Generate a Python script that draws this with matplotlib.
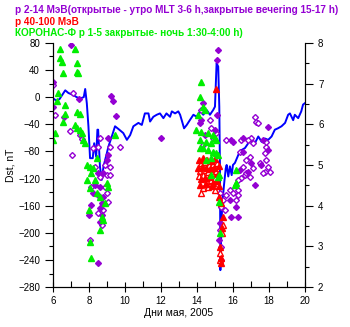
import numpy as np
from matplotlib import pyplot as plt
from matplotlib.ticker import MultipleLocator

plt.rcParams['font.family'] = ['Liberation Sans', 'DejaVu Sans']

# Dst index, nT
dstDay = [6.0, 6.17, 6.35, 6.67, 6.85, 7.13, 7.3, 7.5, 7.7, 7.78, 7.87, 7.96, 8.05, 8.2, 8.28, 8.39, 8.46, 8.5,
          8.6, 8.7, 8.8, 8.98, 9.07, 9.26, 9.44, 9.63, 9.9, 10.1, 10.28, 10.46, 10.74, 10.93, 11.1, 11.3, 11.39,
          11.57, 11.76, 11.94, 12.13, 12.3, 12.5, 12.6, 12.78, 12.96, 13.06, 13.15, 13.28, 13.43, 13.6, 13.8,
          13.98, 14.17, 14.35, 14.54, 14.72, 14.9, 15.0, 15.09, 15.18, 15.24, 15.28, 15.3, 15.35, 15.4, 15.5,
          15.6, 15.65, 15.74, 15.83, 15.93, 16.0, 16.11, 16.3, 16.48, 16.67, 16.85, 17.04, 17.22, 17.41, 17.6,
          17.78, 17.96, 18.15, 18.33, 18.5, 18.7, 18.9, 19.07, 19.17, 19.35, 19.44, 19.63, 19.8, 19.9, 20.0]
dstValue = [-2, -5, -3, 10, 6, 3, 0, -2, 0, 12, -9, -43, -90, -90, -68, -88, -48, -48,
            -102, -122, -102, -83, -73, -58, -43, -47, -53, -63, -56, -43, -38, -41, -24, -24, -36,
            -29, -26, -24, -31, -24, -29, -21, -24, -21, -26, -34, -46, -41, -34, -26,
            -29, -21, -26, -19, -26, -19, -14, 50, 45, -14, -112, -255, -200, -160, -130,
            -105, -100, -117, -102, -115, -100, -97, -85, -78, -75, -68, -63, -68, -58, -66,
            -61, -63, -58, -48, -46, -43, -38, -26, -24, -34, -26, -31, -21, -11, -9]

# p 2-14 MeV, evening (filled)
purpleFilledDay = [6.97, 6.0, 7.44, 6.59, 9.24, 9.30, 9.48, 9.06, 9.06, 8.97, 8.0, 8.13, 8.59, 8.59, 8.5, 12.02,
                   15.17, 15.09, 14.33, 14.24, 15.11, 15.91, 16.0, 17.94, 17.21, 8.5, 8.78, 8.32, 8.59, 8.22,
                   8.78, 8.69, 8.69, 6.0, 14.15, 14.98, 16.56, 17.67, 17.02, 16.37, 16.83, 17.94, 17.58, 16.56,
                   15.82, 16.19, 15.91, 16.28, 15.26, 15.22, 15.35, 14.43]
purpleFilledL = [7.95, 6.43, 6.62, 6.17, 6.70, 6.58, 6.20, 5.66, 5.25, 5.12, 3.77, 4.02, 3.94, 3.61, 2.58, 5.66,
                 7.83, 7.58, 6.52, 6.11, 6.23, 5.61, 5.57, 5.94, 4.51, 4.80, 4.80, 4.51, 4.47, 4.30,
                 4.22, 4.06, 3.77, 7.05, 6.03, 5.86, 5.66, 5.61, 5.04, 4.88, 4.83, 5.37, 5.0, 5.33,
                 4.14, 3.97, 3.73, 3.73, 3.57, 3.16, 2.66, 5.74]

# p 2-14 MeV, morning (open)
purpleOpenDay = [8.32, 8.59, 8.97, 9.15, 8.13, 8.87, 8.5, 8.97, 9.06, 8.78, 8.5, 8.69, 8.04, 8.87, 9.15, 8.59,
                 8.5, 8.22, 9.7, 9.15, 6.0, 6.09, 7.11, 6.93, 7.48, 7.58, 7.02, 14.71, 14.80, 14.89, 15.63,
                 15.08, 16.47, 17.02, 17.11, 17.21, 17.3, 17.39, 16.74, 16.93, 17.11, 16.56, 16.65, 16.47,
                 16.93, 16.28, 17.86, 17.76, 17.86, 17.48, 17.94, 18.04, 17.76, 16.83, 17.86, 16.37, 16.74,
                 16.28, 16.28, 16.19, 17.67, 15.82, 16.0, 15.63, 15.44, 15.54, 15.26, 15.35, 15.3, 15.35,
                 14.24, 14.32]
purpleOpenL = [4.96, 4.71, 4.75, 4.75, 4.47, 4.47, 4.26, 4.30, 4.10, 3.89, 3.81, 3.52, 3.16, 5.0, 4.96, 5.66,
               5.45, 5.41, 5.43, 5.45, 6.97, 6.23, 6.76, 5.84, 5.74, 5.64, 5.25, 6.11, 5.90, 5.66, 5.61,
               5.78, 5.61, 5.66, 5.53, 6.19, 6.06, 6.02, 5.12, 5.20, 4.92, 4.96, 4.75, 4.67,
               4.71, 4.63, 5.45, 5.29, 5.12, 5.04, 4.96, 4.83, 4.83, 5.61, 5.57, 5.33, 4.80,
               4.39, 4.26, 4.14, 4.80, 4.39, 4.30, 4.26, 4.14, 3.89, 4.31, 3.97, 3.40, 2.99,
               6.35, 5.49]

# p 40-100 MeV
redFilledDay = [14.09, 14.32, 14.54, 14.76, 14.98, 15.21, 14.04, 14.26, 14.48, 14.71, 14.93, 15.15, 14.21, 14.43,
                14.65, 14.87, 15.09, 14.15, 14.48, 14.82, 15.21, 15.22, 15.35, 15.44, 15.41, 15.26, 15.35,
                15.35, 15.08]
redFilledL = [5.12, 5.17, 5.12, 5.10, 5.15, 4.98, 4.93, 4.95, 4.93, 4.90, 4.93, 4.78, 4.66, 4.68,
              4.70, 4.56, 4.61, 4.51, 4.53, 4.48, 4.48, 4.22, 4.06, 3.73, 3.44, 2.99, 2.71,
              2.58, 6.86]
redOpenDay = [14.21, 14.43, 14.65, 14.87, 15.09, 14.15, 14.37, 14.59, 14.82, 15.04, 14.09, 14.32, 14.54, 14.76,
              14.98, 14.32, 14.59, 14.98, 14.24, 15.44, 15.37, 15.3, 15.26]
redOpenL = [5.05, 5.07, 5.00, 5.02, 5.05, 4.85, 4.88, 4.83, 4.80, 4.85, 4.73, 4.75, 4.61, 4.63,
            4.68, 4.43, 4.46, 4.39, 4.31, 3.52, 3.33, 2.83, 2.66]

# KORONAS-F p 1-5
greenDay = [6.37, 7.21, 6.37, 6.47, 7.30, 6.56, 7.33, 7.39, 6.28, 6.19, 6.65, 7.30, 7.48, 6.65, 6.56, 7.21,
            7.30, 6.09, 7.48, 7.58, 6.0, 7.67, 7.76,
            7.86, 8.04, 8.22, 8.41, 7.86, 8.13, 8.32, 8.04, 8.41, 8.59, 8.87, 9.06, 8.97, 8.0, 8.69, 8.78,
            8.59, 8.04, 8.13, 9.43,
            14.24, 14.15, 14.33, 14.43, 14.06, 13.97, 14.24, 14.61, 14.89, 14.98, 15.08, 14.15, 14.52, 14.80,
            14.33, 14.61, 14.89, 15.08, 14.80, 15.17, 14.52, 14.15, 14.80, 15.22, 15.22, 15.26, 16.15, 16.19,
            16.09, 15.17]
greenL = [7.84, 7.84, 7.62, 7.54, 7.50, 7.25, 7.29, 7.25, 6.76, 6.56, 6.48, 6.31, 6.25, 6.25, 6.06, 5.98,
          5.90, 5.78, 5.86, 5.78, 5.61, 5.61, 5.53,
          5.0, 4.96, 4.92, 5.16, 4.63, 4.80, 4.63, 4.43, 4.30, 4.22, 4.06, 4.47, 4.55, 3.89, 3.73, 3.65,
          3.40, 3.11, 2.71, 5.74,
          7.05, 6.68, 6.43, 6.35, 6.23, 5.86, 5.82, 5.78, 5.74, 5.66, 5.61, 5.61, 5.57, 5.53,
          5.41, 5.37, 5.33, 5.29, 5.16, 5.25, 5.12, 5.41, 4.75, 4.75, 4.10, 3.32, 4.88, 4.55,
          4.51, 4.71]

purple = '#9400D3'
green = '#00EE00'

fig = plt.figure(figsize=(3.5, 3.27), dpi=100)
ax = fig.add_axes([0.152, 0.122, 0.719, 0.747])
ax2 = ax.twinx()

ax.plot(dstDay, dstValue, color='#0000FF', lw=1.4, zorder=2)

ax2.plot(purpleOpenDay, purpleOpenL, 'D', ms=3.0, mfc='white', mec=purple, mew=1.0, ls='none')
ax2.plot(purpleFilledDay, purpleFilledL, 'D', ms=3.0, mfc=purple, mec=purple, ls='none')
ax2.plot(redOpenDay, redOpenL, '^', ms=4, mfc='white', mec='#FF0000', mew=1.0, ls='none')
ax2.plot(redFilledDay, redFilledL, '^', ms=4, mfc='#FF0000', mec='#FF0000', ls='none')
ax2.plot(greenDay, greenL, '^', ms=5, mfc=green, mec=green, ls='none')

ax.set_xlim(6, 20)
ax.set_ylim(-280, 80)
ax2.set_ylim(2, 8)

ax.xaxis.set_major_locator(MultipleLocator(2))
ax.xaxis.set_minor_locator(MultipleLocator(1))
ax.yaxis.set_major_locator(MultipleLocator(40))
ax.yaxis.set_minor_locator(MultipleLocator(20))
ax2.yaxis.set_major_locator(MultipleLocator(1))
ax2.yaxis.set_minor_locator(MultipleLocator(0.5))

ax.tick_params(axis='x', which='major', direction='inout', length=7, width=0.8, labelsize=7, pad=3)
ax.tick_params(axis='x', which='minor', direction='in', length=4, width=0.8)
ax.tick_params(axis='y', which='major', direction='out', length=6, width=0.8, labelsize=7)
ax.tick_params(axis='y', which='minor', direction='out', length=3, width=0.8)
ax2.tick_params(axis='y', which='major', direction='out', length=6, width=0.8, labelsize=7)
ax2.tick_params(axis='y', which='minor', direction='out', length=3, width=0.8)

for a in (ax, ax2):
    a.spines['top'].set_visible(False)
    for s in ('left', 'right', 'bottom'):
        a.spines[s].set_linewidth(0.8)

ax.set_ylabel('Dst, nT', fontsize=7.5, labelpad=2)
ax.set_xlabel('Дни мая, 2005', fontsize=7.5, labelpad=1)

fig.text(0.043, 0.969, 'p 2-14 МэВ(открытые - утро MLT 3-6 h,закрытые вечеring 15-17 h)',
         color=purple, fontsize=7.2, fontweight='bold', va='center')
fig.text(0.043, 0.933, 'p 40-100 МэВ', color='#FF0000', fontsize=7.2, fontweight='bold', va='center')
fig.text(0.043, 0.899, 'КОРОНАС-Ф p 1-5 закрытые- ночь 1:30-4:00 h)', color=green, fontsize=7.2,
         fontweight='bold', va='center')

plt.savefig('out.png', dpi=100)
plt.close()
